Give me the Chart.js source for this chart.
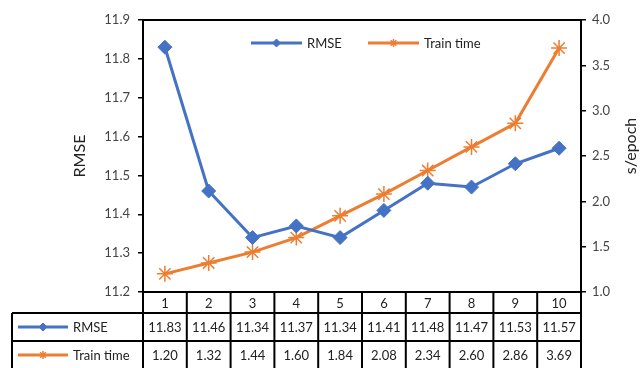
<!DOCTYPE html>
<html>
<head>
<meta charset="utf-8">
<script src="https://cdn.jsdelivr.net/npm/chart.js@4"></script>
<style>
  html, body { margin: 0; padding: 0; background: #fff; }
  #wrap { width: 640px; height: 368px; }
</style>
</head>
<body>
<div id="wrap"><canvas id="lineChart" width="640" height="368"></canvas></div>
<script>
var epochs = ['1', '2', '3', '4', '5', '6', '7', '8', '9', '10'];
var rmse = [11.83, 11.46, 11.34, 11.37, 11.34, 11.41, 11.48, 11.47, 11.53, 11.57];
var trainTime = [1.20, 1.32, 1.44, 1.60, 1.84, 2.08, 2.34, 2.60, 2.86, 3.69];
var seriesNames = ['RMSE', 'Train time'];
var blue = '#4472C4';
var orange = '#ED7D31';
var fontFam = 'Lato, "Open Sans", sans-serif';

// draws the legend at the top, the top frame line, the right axis title and the data table
var tablePlugin = {
    id: 'tablePlugin',
    afterDraw: function (chart) {
        var c = chart.ctx;
        var a = chart.chartArea;
        var x = chart.scales.x;
        var colW = (a.right - a.left) / epochs.length;
        c.save();
        c.strokeStyle = '#000';
        c.lineWidth = 2;
        // top frame
        c.beginPath();
        c.moveTo(a.left, a.top);
        c.lineTo(a.right, a.top);
        c.stroke();

        var r0 = a.bottom, r1 = a.bottom + 21, r2 = r1 + 28, r3 = r2 + 28;
        var leftX = 12;
        c.beginPath();
        c.moveTo(a.left, r0); c.lineTo(a.right, r0);
        c.moveTo(leftX, r1); c.lineTo(a.right, r1);
        c.moveTo(leftX, r2); c.lineTo(a.right, r2);
        c.moveTo(leftX, r3); c.lineTo(a.right, r3);
        c.moveTo(leftX, r1); c.lineTo(leftX, r3);
        for (var i = 0; i <= epochs.length; i++) {
            var xx = a.left + i * colW;
            c.moveTo(xx, r0); c.lineTo(xx, r3);
        }
        c.stroke();

        c.fillStyle = '#222';
        c.font = '13px ' + fontFam;
        c.textAlign = 'center';
        c.textBaseline = 'middle';
        for (var j = 0; j < epochs.length; j++) {
            var cx = x.getPixelForValue(j);
            c.fillText(epochs[j], cx, (r0 + r1) / 2 + 1);
            c.fillText(rmse[j].toFixed(2), cx, (r1 + r2) / 2 + 1);
            c.fillText(trainTime[j].toFixed(2), cx, (r2 + r3) / 2 + 1);
        }

        // legend keys inside the table
        var ds = chart.data.datasets;
        var rowsY = [(r1 + r2) / 2, (r2 + r3) / 2];
        c.textAlign = 'left';
        for (var k = 0; k < 2; k++) {
            drawKey(c, ds[k], 18, 68, rowsY[k]);
            c.fillStyle = '#222';
            c.fillText(seriesNames[k], 73, rowsY[k] + 1);
        }

        // legend at top of plot
        var ly = 43;
        drawKey(c, ds[0], 251, 302, ly);
        c.fillStyle = '#222';
        c.fillText(seriesNames[0], 307, ly + 1);
        drawKey(c, ds[1], 368, 419, ly);
        c.fillStyle = '#222';
        c.fillText(seriesNames[1], 424, ly + 1);

        // right axis title, reading bottom to top
        c.translate(631, 146);
        c.rotate(-Math.PI / 2);
        c.textAlign = 'center';
        c.font = '16px ' + fontFam;
        c.fillText('s/epoch', 0, 0);
        c.restore();
    }
};

function drawKey(c, d, x0, x1, y) {
    c.save();
    c.strokeStyle = d.borderColor;
    c.lineWidth = 3;
    c.beginPath();
    c.moveTo(x0, y);
    c.lineTo(x1, y);
    c.stroke();
    c.fillStyle = d.pointBackgroundColor;
    c.strokeStyle = d.pointBorderColor;
    c.lineWidth = d.pointBorderWidth;
    Chart.helpers.drawPoint(c, { pointStyle: d.pointStyle, radius: 4, borderWidth: d.pointBorderWidth, rotation: 0 }, (x0 + x1) / 2, y);
    c.restore();
}

var ctx = document.getElementById('lineChart').getContext('2d');
var myChart = new Chart(ctx, {
    type: 'line',
    data: {
        labels: epochs,
        datasets: [{
            label: seriesNames[0],
            data: rmse,
            yAxisID: 'y',
            borderColor: blue,
            backgroundColor: blue,
            borderWidth: 3,
            pointStyle: 'rectRot',
            pointRadius: 7,
            pointBackgroundColor: blue,
            pointBorderColor: blue,
            pointBorderWidth: 1,
            tension: 0
        }, {
            label: seriesNames[1],
            data: trainTime,
            yAxisID: 'y1',
            borderColor: orange,
            backgroundColor: orange,
            borderWidth: 3,
            pointStyle: 'star',
            pointRadius: 8,
            pointBackgroundColor: orange,
            pointBorderColor: orange,
            pointBorderWidth: 1.5,
            tension: 0
        }]
    },
    options: {
        responsive: false,
        animation: false,
        layout: { padding: { top: 20, bottom: 76, left: 70, right: 0 } },
        plugins: { legend: { display: false }, tooltip: { enabled: false } },
        scales: {
            x: {
                type: 'category',
                offset: true,
                display: false
            },
            y: {
                position: 'left',
                min: 11.2,
                max: 11.9,
                afterFit: function (s) { s.width = 73; },
                border: { color: '#000', width: 2 },
                grid: { drawOnChartArea: false, tickLength: 5, color: '#000', lineWidth: 1.5 },
                ticks: {
                    stepSize: 0.1,
                    color: '#444',
                    font: { size: 13, family: fontFam },
                    padding: 8,
                    callback: function (v) { return Number(v).toFixed(1); }
                },
                title: { display: true, text: 'RMSE', color: '#222', font: { size: 16, family: fontFam }, padding: 0 }
            },
            y1: {
                position: 'right',
                min: 1,
                max: 4,
                afterFit: function (s) { s.width = 59; },
                border: { color: '#000', width: 2 },
                grid: { drawOnChartArea: false, tickLength: 5, color: '#000', lineWidth: 1.5 },
                ticks: {
                    stepSize: 0.5,
                    color: '#444',
                    font: { size: 13, family: fontFam },
                    padding: 6,
                    callback: function (v) { return Number(v).toFixed(1); }
                }
            }
        }
    },
    plugins: [tablePlugin]
});
</script>
</body>
</html>
